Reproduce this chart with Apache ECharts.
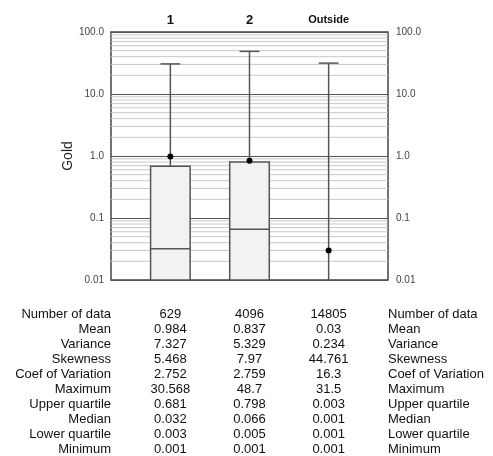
<!DOCTYPE html>
<html>
<head>
<meta charset="utf-8">
<script src="https://cdn.jsdelivr.net/npm/echarts@6/dist/echarts.min.js"></script>
<style>
html,body{margin:0;padding:0;background:#fff;}
#main{width:493px;height:456px;}
</style>
</head>
<body>
<div id="main"></div>
<script>
// ---- data ----
var groups = ['1', '2', 'Outside'];
var minimum = [0.001, 0.001, 0.001];
var lowerQuartile = [0.003, 0.005, 0.001];
var median = [0.032, 0.066, 0.001];
var upperQuartile = [0.681, 0.798, 0.003];
var maximum = [30.568, 48.7, 31.5];
var mean = [0.984, 0.837, 0.03];
var numberOfData = [629, 4096, 14805];
var variance = [7.327, 5.329, 0.234];
var skewness = [5.468, 7.97, 44.761];
var coefOfVariation = [2.752, 2.759, 16.3];
var statLabels = ['Number of data', 'Mean', 'Variance', 'Skewness', 'Coef of Variation',
  'Maximum', 'Upper quartile', 'Median', 'Lower quartile', 'Minimum'];
var yTickValues = [0.01, 0.1, 1, 10, 100];
var yTickLabels = ['0.01', '0.1', '1.0', '10.0', '100.0'];
var minorGridValues = [0.02, 0.03, 0.04, 0.05, 0.06, 0.07, 0.08, 0.09,
  0.2, 0.3, 0.4, 0.5, 0.6, 0.7, 0.8, 0.9,
  2, 3, 4, 5, 6, 7, 8, 9,
  20, 30, 40, 50, 60, 70, 80, 90];

var statColumns = [numberOfData, mean, variance, skewness, coefOfVariation,
  maximum, upperQuartile, median, lowerQuartile, minimum];

var FONT = 'Liberation Sans, Arial, Helvetica, sans-serif';
var ROW0 = 34, ROWH = 15.1;

function labelFor(v) {
  for (var i = 0; i < yTickValues.length; i++) {
    if (Math.abs(Math.log10(v) - Math.log10(yTickValues[i])) < 1e-6) return yTickLabels[i];
  }
  return '';
}

var chart = echarts.init(document.getElementById('main'), null, {renderer: 'canvas'});

function clampY(y, cs) {
  return Math.max(cs.y, Math.min(cs.y + cs.height, y));
}

var yAxisBase = {
  type: 'log', logBase: 10, min: 0.01, max: 100,
  axisLine: {show: false}, axisTick: {show: false},
  splitLine: {show: true, lineStyle: {color: '#555', width: 1.2}},
  axisLabel: {formatter: labelFor, color: '#444', fontSize: 10, fontFamily: FONT}
};

var option = {
  animation: false,
  backgroundColor: '#fff',
  grid: {left: 111, right: 105, top: 32, bottom: 176, show: true,
    borderColor: '#444', borderWidth: 1.5, backgroundColor: 'transparent'},
  xAxis: {type: 'value', min: 0.25, max: 3.75, show: false},
  yAxis: [
    Object.assign({}, yAxisBase, {position: 'left', name: 'Gold', nameLocation: 'middle', nameGap: 36,
      nameMoveOverlap: false,
      nameTextStyle: {fontSize: 14, color: '#222', fontFamily: FONT},
      axisLabel: Object.assign({}, yAxisBase.axisLabel, {margin: 7})}),
    Object.assign({}, yAxisBase, {position: 'right', splitLine: {show: false},
      axisLabel: Object.assign({}, yAxisBase.axisLabel, {margin: 8})})
  ],
  series: [
    { // minor gridlines
      type: 'custom', z: 1, silent: true,
      data: minorGridValues.map(function (v) { return [0.25, v]; }),
      renderItem: function (params, api) {
        var cs = params.coordSys;
        var y = api.coord([api.value(0), api.value(1)])[1];
        return {type: 'line', shape: {x1: cs.x, y1: y, x2: cs.x + cs.width, y2: y},
          style: {stroke: '#c8c8c8', lineWidth: 1}};
      }
    },
    { // box plots
      type: 'custom', z: 3, silent: true,
      data: groups.map(function (g, i) {
        return [i + 1, minimum[i], lowerQuartile[i], median[i], upperQuartile[i], maximum[i], mean[i]];
      }),
      renderItem: function (params, api) {
        var cs = params.coordSys;
        var x = api.value(0);
        var cx = api.coord([x, 1])[0];
        var bw = api.size([0.5, 1])[0];
        var capw = api.size([0.25, 1])[0];
        var yMin = clampY(api.coord([x, api.value(1)])[1], cs);
        var yQ1 = clampY(api.coord([x, api.value(2)])[1], cs);
        var yMedRaw = api.coord([x, api.value(3)])[1];
        var yQ3 = clampY(api.coord([x, api.value(4)])[1], cs);
        var yMax = clampY(api.coord([x, api.value(5)])[1], cs);
        var yMean = api.coord([x, api.value(6)])[1];
        var stroke = '#555';
        var children = [];
        children.push({type: 'line', shape: {x1: cx, y1: yQ3, x2: cx, y2: yMax}, style: {stroke: stroke, lineWidth: 1.5}});
        children.push({type: 'line', shape: {x1: cx - capw / 2, y1: yMax, x2: cx + capw / 2, y2: yMax}, style: {stroke: stroke, lineWidth: 1.5}});
        if (yMin > yQ1) children.push({type: 'line', shape: {x1: cx, y1: yQ1, x2: cx, y2: yMin}, style: {stroke: stroke, lineWidth: 1.5}});
        if (yQ1 - yQ3 > 0.5) {
          children.push({type: 'rect', shape: {x: cx - bw / 2, y: yQ3, width: bw, height: yQ1 - yQ3},
            style: {fill: '#f2f2f2', stroke: stroke, lineWidth: 1.5}});
          if (yMedRaw >= cs.y && yMedRaw <= cs.y + cs.height) {
            children.push({type: 'line', shape: {x1: cx - bw / 2, y1: yMedRaw, x2: cx + bw / 2, y2: yMedRaw}, style: {stroke: stroke, lineWidth: 1.5}});
          }
        }
        if (yMean >= cs.y && yMean <= cs.y + cs.height) {
          children.push({type: 'circle', shape: {cx: cx, cy: yMean, r: 3}, style: {fill: '#000'}});
        }
        return {type: 'group', children: children};
      }
    },
    { // group headers and stat values
      type: 'custom', z: 4, silent: true,
      data: groups.map(function (g, i) { return [i + 1, 1]; }),
      renderItem: function (params, api) {
        var cs = params.coordSys;
        var i = params.dataIndex;
        var cx = api.coord([api.value(0), 1])[0];
        var children = [];
        var name = groups[i];
        children.push({type: 'text', style: {text: name, x: cx, y: cs.y - 12, align: 'center', verticalAlign: 'middle',
          font: 'bold ' + (name.length > 2 ? 11 : 13) + 'px ' + FONT, fill: '#111'}});
        for (var r = 0; r < statColumns.length; r++) {
          children.push({type: 'text', style: {text: String(statColumns[r][i]), x: cx,
            y: cs.y + cs.height + ROW0 + r * ROWH, align: 'center', verticalAlign: 'middle',
            font: '13px ' + FONT, fill: '#111'}});
        }
        return {type: 'group', children: children};
      }
    },
    { // row labels on both sides
      type: 'custom', z: 4, silent: true,
      data: statLabels.map(function (s, r) { return [1, r]; }),
      renderItem: function (params, api) {
        var cs = params.coordSys;
        var r = params.dataIndex;
        var y = cs.y + cs.height + ROW0 + r * ROWH;
        return {type: 'group', children: [
          {type: 'text', style: {text: statLabels[r], x: cs.x, y: y, align: 'right', verticalAlign: 'middle', font: '13px ' + FONT, fill: '#111'}},
          {type: 'text', style: {text: statLabels[r], x: cs.x + cs.width, y: y, align: 'left', verticalAlign: 'middle', font: '13px ' + FONT, fill: '#111'}}
        ]};
      }
    }
  ]
};
chart.setOption(option);
</script>
</body>
</html>
